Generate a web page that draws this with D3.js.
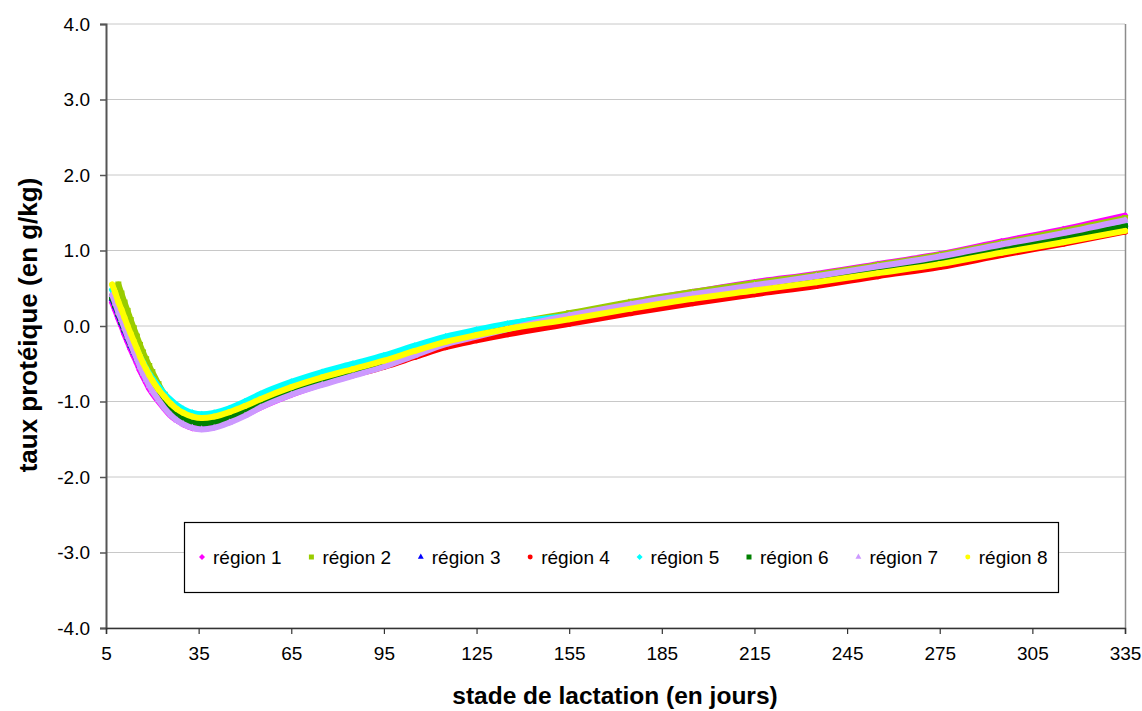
<!DOCTYPE html>
<html>
<head>
<meta charset="utf-8">
<script src="https://cdn.jsdelivr.net/npm/d3@7"></script>
<style>
  html, body { margin: 0; padding: 0; background: #ffffff; }
  svg { display: block; font-family: "Liberation Sans", Arial, sans-serif; }
</style>
</head>
<body>
<svg id="chart" width="1142" height="711"></svg>
<script>
// ---------- data ----------
const days = [7,8,9,10,11,12,13,14,15,16,17,18,19,20,22,24,26,28,30,33,36,40,45,50,55,65,75,85,95,105,115,125,135,155,175,195,215,235,255,275,295,315,335];

const region1 = [0.31,0.21,0.10,0.00,-0.11,-0.21,-0.31,-0.40,-0.49,-0.59,-0.67,-0.75,-0.83,-0.89,-1.00,-1.10,-1.19,-1.25,-1.30,-1.35,-1.36,-1.34,-1.27,-1.18,-1.08,-0.91,-0.77,-0.65,-0.52,-0.38,-0.23,-0.12,-0.02,0.14,0.31,0.45,0.58,0.69,0.82,0.95,1.12,1.28,1.46];
const region2 = [null,null,0.55,0.43,0.31,0.20,0.08,-0.03,-0.14,-0.25,-0.35,-0.44,-0.53,-0.61,-0.77,-0.91,-1.01,-1.09,-1.15,-1.20,-1.23,-1.22,-1.16,-1.08,-0.99,-0.82,-0.68,-0.55,-0.43,-0.30,-0.17,-0.07,0.02,0.17,0.32,0.45,0.57,0.68,0.81,0.94,1.10,1.26,1.43];
const region3 = [0.36,0.26,0.15,0.04,-0.06,-0.16,-0.26,-0.35,-0.44,-0.53,-0.62,-0.70,-0.77,-0.84,-0.96,-1.06,-1.14,-1.21,-1.25,-1.29,-1.31,-1.29,-1.23,-1.14,-1.05,-0.88,-0.74,-0.62,-0.50,-0.37,-0.24,-0.14,-0.05,0.10,0.25,0.39,0.51,0.62,0.74,0.87,1.03,1.18,1.34];
const region4 = [0.40,0.30,0.19,0.09,-0.02,-0.12,-0.22,-0.32,-0.41,-0.50,-0.59,-0.67,-0.74,-0.81,-0.93,-1.03,-1.11,-1.18,-1.22,-1.27,-1.29,-1.27,-1.21,-1.13,-1.05,-0.89,-0.76,-0.65,-0.54,-0.41,-0.28,-0.19,-0.11,0.03,0.17,0.30,0.42,0.53,0.66,0.78,0.94,1.09,1.25];
const region5 = [0.48,0.38,0.27,0.17,0.07,-0.03,-0.13,-0.22,-0.31,-0.40,-0.48,-0.56,-0.63,-0.69,-0.80,-0.90,-0.98,-1.05,-1.10,-1.15,-1.17,-1.15,-1.09,-1.00,-0.90,-0.74,-0.61,-0.50,-0.39,-0.26,-0.14,-0.05,0.03,0.14,0.27,0.40,0.51,0.62,0.74,0.86,1.02,1.17,1.33];
const region6 = [0.38,0.28,0.17,0.06,-0.04,-0.14,-0.24,-0.33,-0.42,-0.51,-0.60,-0.68,-0.75,-0.82,-0.94,-1.04,-1.12,-1.19,-1.23,-1.27,-1.29,-1.27,-1.21,-1.12,-1.03,-0.86,-0.72,-0.61,-0.49,-0.36,-0.23,-0.13,-0.04,0.10,0.25,0.38,0.50,0.61,0.73,0.86,1.02,1.17,1.32];
const region7 = [0.41,0.30,0.18,0.08,-0.03,-0.14,-0.24,-0.34,-0.44,-0.54,-0.63,-0.71,-0.79,-0.86,-0.98,-1.09,-1.18,-1.25,-1.30,-1.35,-1.37,-1.35,-1.28,-1.19,-1.08,-0.91,-0.78,-0.66,-0.54,-0.39,-0.24,-0.14,-0.04,0.14,0.29,0.42,0.54,0.66,0.79,0.92,1.08,1.23,1.40];
const region8 = [0.55,0.44,0.32,0.22,0.11,0.00,-0.10,-0.20,-0.30,-0.40,-0.49,-0.57,-0.65,-0.72,-0.84,-0.94,-1.03,-1.10,-1.15,-1.20,-1.22,-1.20,-1.14,-1.06,-0.97,-0.81,-0.68,-0.57,-0.46,-0.33,-0.21,-0.12,-0.04,0.09,0.23,0.36,0.47,0.58,0.70,0.82,0.97,1.11,1.26];

const seriesNames = ["région 1","région 2","région 3","région 4","région 5","région 6","région 7","région 8"];
const xTickValues = [5,35,65,95,125,155,185,215,245,275,305,335];
const yTickValues = [-4,-3,-2,-1,0,1,2,3,4];
const yTickLabels = ["-4.0","-3.0","-2.0","-1.0","0.0","1.0","2.0","3.0","4.0"];
const xTitle = "stade de lactation (en jours)";
const yTitle = "taux protéique (en g/kg)";

// ---------- styles ----------
const colors = ["#FF00FF","#99CC00","#0000FF","#FF0000","#00FFFF","#008000","#CC99FF","#FFFF00"];
const shapes = ["diamond","square","triangle","circle","diamond","square","triangle","circle"];

const allSeries = [region1,region2,region3,region4,region5,region6,region7,region8];

const plot = {left: 106, right: 1125, top: 24, bottom: 628};

const svg = d3.select("#chart");
const x = d3.scaleLinear().domain([5,335]).range([plot.left, plot.right]);
const y = d3.scaleLinear().domain([-4,4]).range([plot.bottom, plot.top]);

// gridlines
svg.append("g").selectAll("line").data(yTickValues).join("line")
  .attr("x1", plot.left).attr("x2", plot.right)
  .attr("y1", d => y(d)).attr("y2", d => y(d))
  .attr("stroke", "#c8c8c8").attr("stroke-width", 1);

// right border
svg.append("line").attr("x1", plot.right + 0.5).attr("x2", plot.right + 0.5)
  .attr("y1", plot.top).attr("y2", plot.bottom)
  .attr("stroke", "#8c8c8c").attr("stroke-width", 1.5);

function symbolPath(shape, s) {
  if (shape === "circle") return d3.symbol(d3.symbolCircle, s * s * 0.78)();
  if (shape === "square") return d3.symbol(d3.symbolSquare, s * s)();
  if (shape === "triangle") return d3.symbol(d3.symbolTriangle, s * s * 0.6)();
  const r = s / 2;
  return `M0,${-r}L${r},0L0,${r}L${-r},0Z`;
}

// series
const line = d3.line()
  .defined(d => d.v !== null)
  .x(d => x(d.d)).y(d => y(d.v))
  .curve(d3.curveMonotoneX);

allSeries.forEach((vals, i) => {
  const pts = days.map((d, k) => ({d, v: vals[k]}));
  const g = svg.append("g");
  g.append("path").datum(pts).attr("d", line)
    .attr("fill", "none").attr("stroke", colors[i])
    .attr("stroke-width", 6).attr("stroke-linejoin", "round").attr("stroke-linecap", "round");
  g.selectAll("path.m").data(pts.filter(p => p.v !== null)).join("path")
    .attr("class", "m")
    .attr("transform", p => `translate(${x(p.d)},${y(p.v)})`)
    .attr("d", symbolPath(shapes[i], shapes[i] === "diamond" ? 7 : 6))
    .attr("fill", colors[i]);
});

// axes
const yAxis = d3.axisLeft(y).tickValues(yTickValues).tickSize(6)
  .tickFormat((d, i) => yTickLabels[i]);
const yG = svg.append("g").attr("transform", `translate(${plot.left},0)`).call(yAxis);
yG.select(".domain").attr("stroke", "#555").attr("stroke-width", 2);
yG.selectAll(".tick line").attr("stroke", "#555").attr("stroke-width", 1.5);
yG.selectAll(".tick text").attr("font-size", 19).attr("fill", "#000").attr("x", -16)
  .attr("font-family", "Liberation Sans, Arial, sans-serif");

const xAxis = d3.axisBottom(x).tickValues(xTickValues).tickSize(6).tickFormat(d3.format("d"));
const xG = svg.append("g").attr("transform", `translate(0,${plot.bottom})`).call(xAxis);
xG.select(".domain").attr("stroke", "#333").attr("stroke-width", 1.5);
xG.selectAll(".tick line").attr("stroke", "#333").attr("stroke-width", 1.2);
xG.selectAll(".tick text").attr("font-size", 19).attr("fill", "#000").attr("y", 19)
  .attr("font-family", "Liberation Sans, Arial, sans-serif");

// axis titles
svg.append("text").attr("x", 615).attr("y", 704).attr("text-anchor", "middle")
  .attr("font-size", 24.5).attr("font-weight", "bold").text(xTitle);
svg.append("text").attr("transform", `translate(37,325) rotate(-90)`).attr("text-anchor", "middle")
  .attr("font-size", 26).attr("font-weight", "bold").text(yTitle);

// legend
const leg = svg.append("g");
leg.append("rect").attr("x", 184.5).attr("y", 522.5).attr("width", 874).attr("height", 70)
  .attr("fill", "#fff").attr("stroke", "#000").attr("stroke-width", 1.2);
seriesNames.forEach((name, i) => {
  const cx = 202 + i * 109.4;
  leg.append("path").attr("transform", `translate(${cx},557)`)
    .attr("d", symbolPath(shapes[i], shapes[i] === "diamond" ? 6 : 5)).attr("fill", colors[i]);
  leg.append("text").attr("x", cx + 11).attr("y", 564).attr("font-size", 19).attr("fill", "#000").text(name);
});
</script>
</body>
</html>
